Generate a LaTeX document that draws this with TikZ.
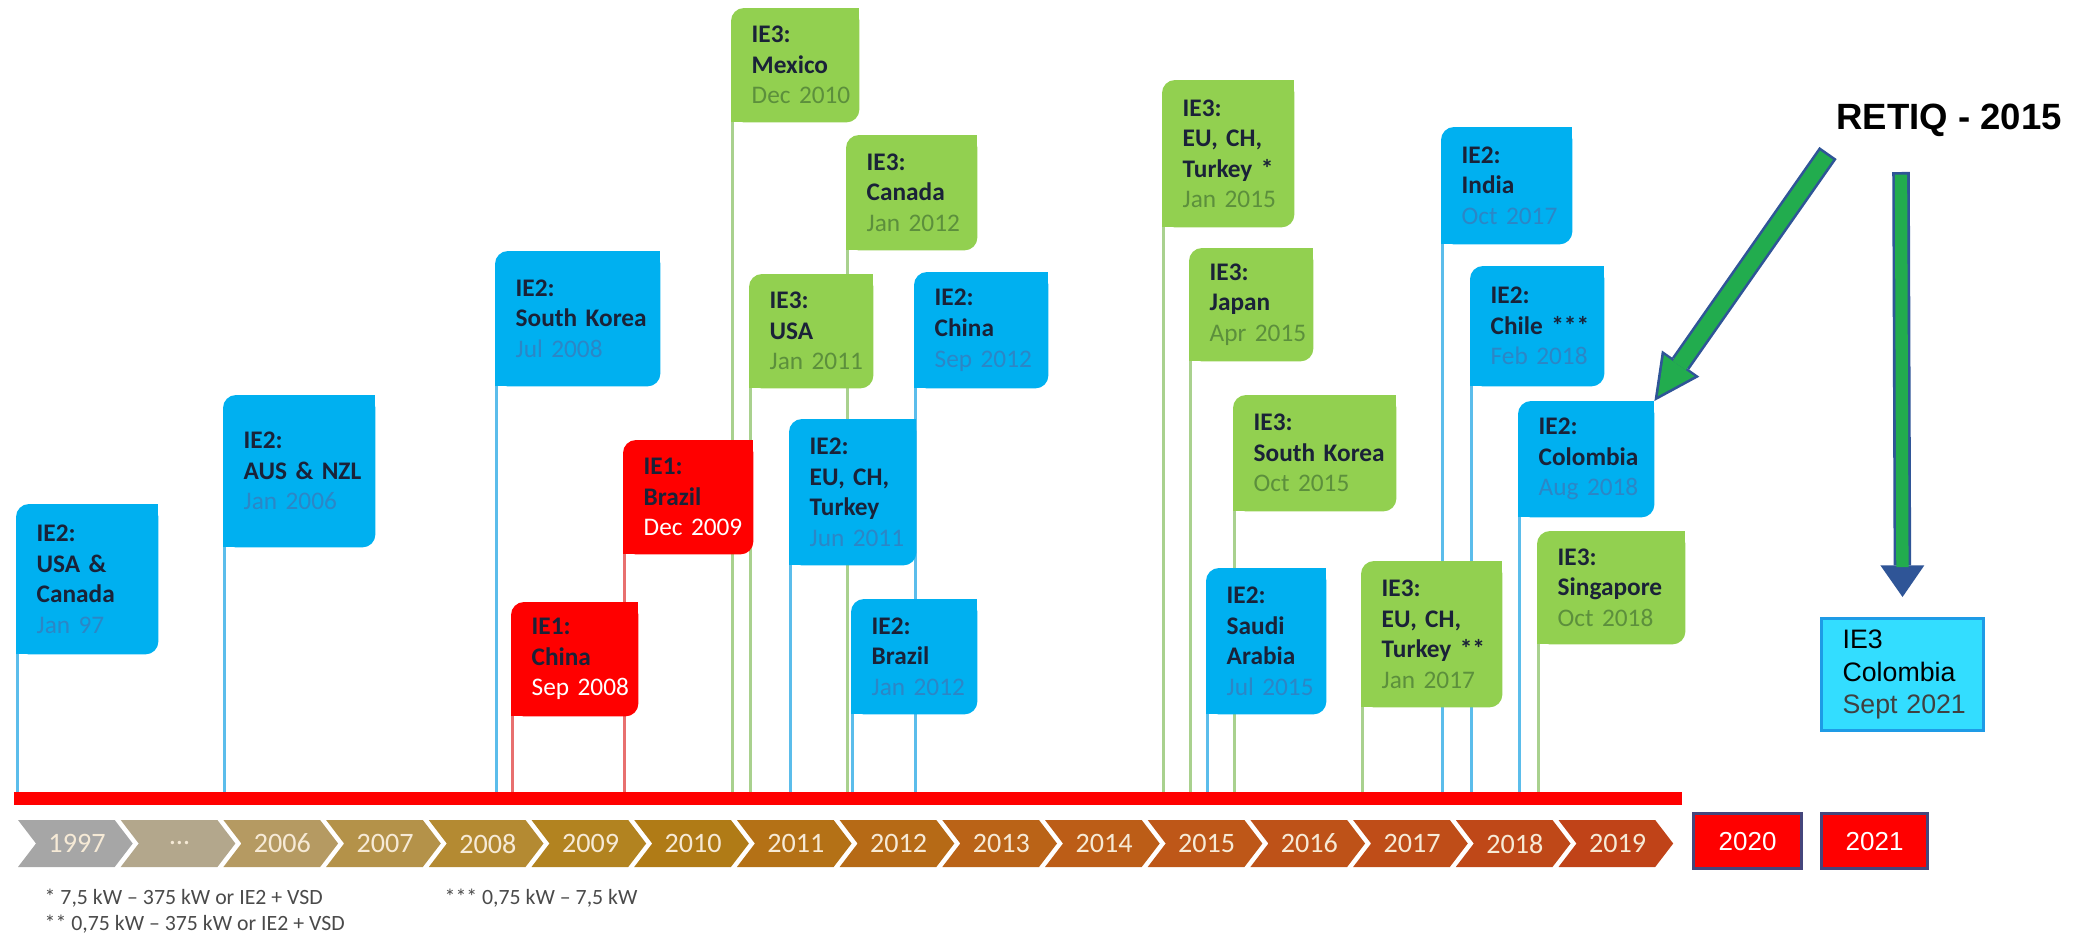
\documentclass[tikz,border=0pt]{standalone}
\usepackage{fontspec}
\setmainfont{Carlito}
\newfontfamily\arialfont{Liberation Sans}
\usetikzlibrary{arrows.meta, positioning, backgrounds}

\definecolor{ieblue}{HTML}{00B0F0}
\definecolor{iegreen}{HTML}{92D050}
\definecolor{iered}{HTML}{FF0000}
\definecolor{poleblue}{HTML}{5BBDEB}
\definecolor{polegreen}{HTML}{A9D18E}
\definecolor{polered}{HTML}{E8706F}
\definecolor{labelcol}{HTML}{1A2238}
\definecolor{dateblue}{HTML}{2C86C6}
\definecolor{dategreen}{HTML}{5C8F3C}
\definecolor{retgreen}{HTML}{22AC4E}
\definecolor{retblue}{HTML}{2F5597}
\definecolor{cyanfill}{HTML}{33DDFF}
\definecolor{cyanedge}{HTML}{1E9BE6}
\definecolor{notecol}{HTML}{4A4A4A}
\definecolor{yearedge}{HTML}{45467C}
\definecolor{yeartxt}{HTML}{F6EAD6}
\colorlet{datecol}{black}

\newcommand{\when}[1]{{\mdseries\color{datecol}#1}}
\newcommand{\flagshape}[2]{%
  \fill[#2, rounded corners=1.3mm] (#1.south west) rectangle (#1.north east);
  \fill[#2] (#1.south west) rectangle ++(15,-15);
  \fill[#2] (#1.north east) rectangle ++(-15,15);}

\begin{document}
\begin{tikzpicture}[x=0.1mm, y=-0.1mm,
  flag/.style 2 args={anchor=north west, align=left, inner xsep=2mm, inner ysep=0pt,
    text width=#1, minimum height=#2, text=labelcol,
    execute at begin node={\hyphenpenalty=10000},
    font=\fontsize{7.2}{8.7}\selectfont\bfseries},
  ieone/.style={/utils/exec={\colorlet{datecol}{white}}},
  ietwo/.style={/utils/exec={\colorlet{datecol}{dateblue}}},
  iethree/.style={/utils/exec={\colorlet{datecol}{dategreen}}},
  pole/.style={draw=#1, line width=0.8pt},
  yeartext/.style={text=yeartxt, font=\fontsize{8}{9}\selectfont},
  yearred/.style={fill=iered, draw=yearedge, line width=0.9pt, anchor=north west,
    text=white, font=\arialfont\fontsize{7.4}{9}\selectfont, inner sep=0pt},
  note/.style={anchor=west, text=notecol, inner sep=0pt, font=\fontsize{6.2}{7}\selectfont},
  retouter/.style={draw=retblue, line width=6pt,
    -{Triangle[length=13pt, width=13pt, line width=0pt]}},
  retinner/.style={draw=retgreen, line width=4.5pt, shorten <=0.75pt, shorten >=1.7pt,
    -{Triangle[length=10.6pt, width=10.6pt, line width=0pt]}}]
\useasboundingbox (0,0) rectangle (2079,940);

% define the time line
  \node[fill=iered, inner sep=0pt, minimum width=166.8mm, minimum height=1.3mm, anchor=west] (axis) at (13,798) {};
  \foreach \yr/\col [count=\i from 0] in {1997/A6A6A6, {\dots}/B3A78C, 2006/B59A62, 2007/B49249,
      2008/B48A32, 2009/B28320, 2010/B07B16, 2011/B47116, 2012/B66A16, 2013/BA6317,
      2014/BC5D17, 2015/BE5718, 2016/BE5218, 2017/BF4D18, 2018/BF4818, 2019/C04318}
  {
    \pgfmathsetmacro{\xa}{18+\i*102.7}
    \definecolor{chev}{HTML}{\col}
    \fill[chev] (\xa,820) -- ++(96.7,0) -- ++(18,23.5) -- ++(-18,23.5) -- ++(-96.7,0) -- ++(18,-23.5) -- cycle;
    \node[yeartext] (yr\i) at (\xa+59,843.5) {\yr};
  }
  \node[yearred, minimum width=10.8mm, minimum height=5.5mm] (yr2020) at (1692,812) {2020};
  \node[yearred, minimum width=10.6mm, minimum height=5.5mm] (yr2021) at (1820,812) {2021};

% define the flags
  \node[flag={10.1mm}{14.9mm}, ietwo] (usa) at (16,504) {IE2:\\USA~\&\\Canada\\\when{Jan~97}};
  \node[flag={11.1mm}{15.1mm}, ietwo] (aus) at (223,395) {IE2:\\AUS~\&~NZL\\\when{Jan~2006}};
  \node[flag={12.4mm}{13.4mm}, ietwo] (skor) at (495,251) {IE2:\\South~Korea\\\when{Jul~2008}};
  \node[flag={8.6mm}{11.3mm}, ieone] (chnone) at (511,602) {IE1:\\China\\\when{Sep~2008}};
  \node[flag={8.9mm}{11.3mm}, ieone] (braone) at (623,440) {IE1:\\Brazil\\\when{Dec~2009}};
  \node[flag={8.7mm}{11.3mm}, iethree] (mex) at (731,8) {IE3:\\Mexico\\\when{Dec~2010}};
  \node[flag={9.0mm}{11.4mm}, iethree] (can) at (846,135) {IE3:\\Canada\\\when{Jan~2012}};
  \node[flag={8.3mm}{11.3mm}, iethree] (usathree) at (749,274) {IE3:\\USA\\\when{Jan~2011}};
  \node[flag={9.3mm}{11.5mm}, ietwo] (chntwo) at (914,272) {IE2:\\China\\\when{Sep~2012}};
  \node[flag={8.6mm}{14.5mm}, ietwo] (eutwo) at (789,419) {IE2:\\EU,~CH,\\Turkey\\\when{Jun~2011}};
  \node[flag={8.5mm}{11.4mm}, ietwo] (bratwo) at (851,599) {IE2:\\Brazil\\\when{Jan~2012}};
  \node[flag={9.1mm}{14.6mm}, iethree] (eua) at (1162,80) {IE3:\\EU,~CH,\\Turkey~*\\\when{Jan~2015}};
  \node[flag={8.3mm}{11.2mm}, iethree] (jap) at (1189,248) {IE3:\\Japan\\\when{Apr~2015}};
  \node[flag={12.2mm}{11.5mm}, iethree] (skorthree) at (1233,395) {IE3:\\South~Korea\\\when{Oct~2015}};
  \node[flag={7.9mm}{14.5mm}, ietwo] (saudi) at (1206,568) {IE2:\\Saudi\\Arabia\\\when{Jul~2015}};
  \node[flag={10.0mm}{14.5mm}, iethree] (eub) at (1361,561) {IE3:\\EU,~CH,\\Turkey~**\\\when{Jan~2017}};
  \node[flag={9.0mm}{11.6mm}, ietwo] (india) at (1441,127) {IE2:\\India\\\when{Oct~2017}};
  \node[flag={9.3mm}{11.9mm}, ietwo] (chile) at (1470,266) {IE2:\\Chile~***\\\when{Feb~2018}};
  \node[flag={9.5mm}{11.5mm}, ietwo] (col) at (1518,401) {IE2:\\Colombia\\\when{Aug~2018}};
  \node[flag={10.7mm}{11.2mm}, iethree] (sing) at (1537,531) {IE3:\\Singapore\\\when{Oct~2018}};

% poles and flag backgrounds behind the texts
  \begin{scope}[on background layer]
    \foreach \n in {usa,aus,skor,chntwo,eutwo,bratwo,saudi,india,chile,col}
      \draw[pole=poleblue] ([xshift=0.4pt]\n.south west) -- ([xshift=0.4pt]\n.south west |- axis.center);
    \foreach \n in {mex,can,usathree,eua,jap,skorthree,eub,sing}
      \draw[pole=polegreen] ([xshift=0.4pt]\n.south west) -- ([xshift=0.4pt]\n.south west |- axis.center);
    \foreach \n in {chnone,braone}
      \draw[pole=polered] ([xshift=0.4pt]\n.south west) -- ([xshift=0.4pt]\n.south west |- axis.center);
    \foreach \n in {usa,aus,skor,chntwo,eutwo,bratwo,saudi,india,chile,col}
      \flagshape{\n}{ieblue};
    \foreach \n in {mex,can,usathree,eua,jap,skorthree,eub,sing}
      \flagshape{\n}{iegreen};
    \foreach \n in {chnone,braone}
      \flagshape{\n}{iered};
  \end{scope}

% RETIQ and the new rule
  \node[font=\arialfont\bfseries\fontsize{10.4}{12}\selectfont] (retiq) at (1949,120) {RETIQ - 2015};
  \node[fill=cyanfill, draw=cyanedge, line width=0.9pt, anchor=north west, align=left,
        inner xsep=2.1mm, inner ysep=0pt, text width=12.0mm, minimum height=11.2mm,
        font=\arialfont\fontsize{7.6}{9.2}\selectfont] (ieco) at (1820,617)
        {IE3\\Colombia\\\textcolor{black!75}{Sept~2021}};
  \coordinate (tailA) at (1828,153);
  \coordinate (tailB) at (1901,172);

% define the arrows
  \draw[retouter] (tailA) -- (col.north east);
  \draw[retinner] (tailA) -- (col.north east);
  \draw[draw=retblue, line width=5pt, shorten >=2mm,
        -{Triangle[length=9pt, width=12.5pt, line width=0pt]}] (tailB) -- (ieco.north);
  \draw[draw=retgreen, line width=3.5pt, shorten <=0.75pt, shorten >=2mm+8.5pt] (tailB) -- (ieco.north);

% footnotes
  \node[note] (noteone) at (44,898) {* 7,5 kW -- 375 kW or IE2 + VSD};
  \node[note] (notetwo) at (44,924) {** 0,75 kW -- 375 kW or IE2 + VSD};
  \node[note] (notethree) at (444,898) {*** 0,75 kW -- 7,5 kW};
\end{tikzpicture}
\end{document}
